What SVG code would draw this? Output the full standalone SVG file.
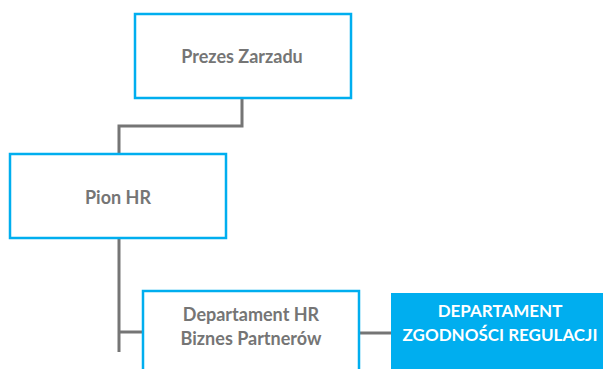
<svg xmlns="http://www.w3.org/2000/svg" width="603" height="369" viewBox="0 0 603 369">
<style>
.box{fill:#ffffff;stroke:#00aeef;stroke-width:2.5}
.fill{fill:#00aeef;stroke:none}
.conn{fill:none;stroke:#757575;stroke-width:3}
.t{font-family:Lato,"Liberation Sans",sans-serif;font-weight:bold;font-size:18px;fill:#757575;text-anchor:middle}
.tw{font-family:Lato,"Liberation Sans",sans-serif;font-weight:bold;font-size:17px;fill:#ffffff;text-anchor:middle}
</style>
<rect width="603" height="369" fill="#ffffff"/>
<g id="connectors">
<path class="conn" d="M242 99 V126 H119 V153"/>
<path class="conn" d="M119 238 V352"/>
<path class="conn" d="M119 332 H143"/>
<path class="conn" d="M359 333 H391"/>
</g>
<g id="prezes">
<rect class="box" x="135" y="14" width="216" height="84"/>
<text class="t" x="242" y="63">Prezes Zarzadu</text>
</g>
<g id="pion-hr">
<rect class="box" x="10" y="154" width="216" height="84"/>
<text class="t" x="118" y="204">Pion HR</text>
</g>
<g id="dep-hr-bp">
<rect class="box" x="143" y="291" width="216" height="84"/>
<text class="t" x="251" y="321">Departament HR</text>
<text class="t" x="251" y="345">Biznes Partnerów</text>
</g>
<g id="dep-zr">
<rect class="fill" x="391" y="293" width="216" height="84"/>
<text class="tw" x="500" y="317">DEPARTAMENT</text>
<text class="tw" x="500" y="341">ZGODNOŚCI REGULACJI</text>
</g>
</svg>
